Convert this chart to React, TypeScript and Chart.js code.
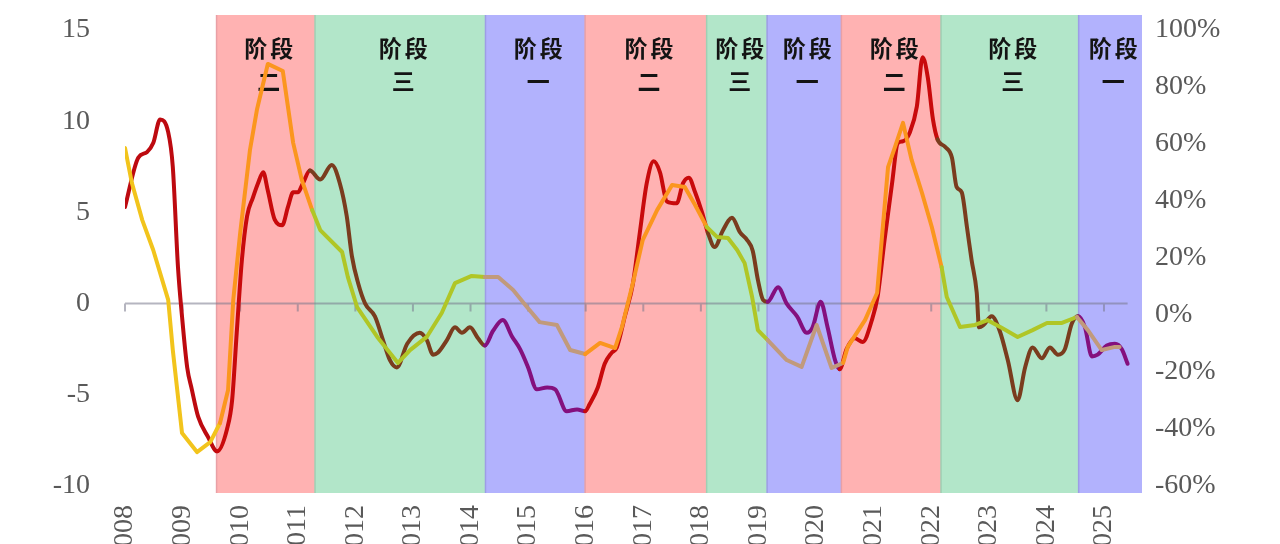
import React, { useEffect, useRef } from 'react';
import { Chart, registerables } from 'chart.js';

Chart.register(...registerables);

// year ticks on the category axis
const years = [2008, 2009, 2010, 2011, 2012, 2013, 2014, 2015, 2016, 2017, 2018, 2019, 2020, 2021, 2022, 2023, 2024, 2025];

// left axis series
const leftDates = [
  2008.0, 2008.23, 2008.38, 2008.49, 2008.61, 2008.75, 2008.83, 2008.92, 2008.99, 2009.08,
  2009.16, 2009.27, 2009.44, 2009.6, 2009.77, 2009.86, 2009.94, 2010.03, 2010.12, 2010.22,
  2010.31, 2010.4, 2010.48, 2010.6, 2010.73, 2010.83, 2010.92, 2011.0, 2011.09, 2011.21,
  2011.39, 2011.59, 2011.73, 2011.85, 2011.94, 2012.05, 2012.17, 2012.34, 2012.48, 2012.6,
  2012.72, 2012.9, 2013.12, 2013.24, 2013.35, 2013.43, 2013.59, 2013.73, 2013.85, 2013.99,
  2014.13, 2014.25, 2014.39, 2014.56, 2014.72, 2014.86, 2015.0, 2015.15, 2015.33, 2015.47,
  2015.67, 2015.85, 2015.99, 2016.07, 2016.21, 2016.33, 2016.45, 2016.54, 2016.68, 2016.82,
  2016.94, 2017.06, 2017.18, 2017.29, 2017.41, 2017.58, 2017.69, 2017.79, 2017.9, 2018.02,
  2018.12, 2018.24, 2018.38, 2018.54, 2018.68, 2018.8, 2018.9, 2018.99, 2019.08, 2019.16,
  2019.34, 2019.49, 2019.67, 2019.84, 2019.94, 2020.08, 2020.2, 2020.33, 2020.41, 2020.53,
  2020.67, 2020.81, 2020.97, 2021.07, 2021.19, 2021.32, 2021.42, 2021.51, 2021.63, 2021.75,
  2021.85, 2021.94, 2022.03, 2022.11, 2022.24, 2022.36, 2022.44, 2022.53, 2022.62, 2022.7,
  2022.79, 2022.83, 2022.9, 2023.05, 2023.19, 2023.33, 2023.5, 2023.63, 2023.76, 2023.92,
  2024.06, 2024.2, 2024.32, 2024.44, 2024.55, 2024.67, 2024.79, 2024.89, 2025.05, 2025.19,
  2025.31, 2025.41,
];
const leftValues = [
  5.3, 8.0, 8.3, 8.8, 10.1, 9.4, 7.5, 2.0, -0.7, -3.5,
  -4.7, -6.2, -7.3, -8.1, -6.9, -5.3, -1.6, 2.4, 4.8, 5.8,
  6.6, 7.2, 6.2, 4.6, 4.3, 5.3, 6.1, 6.1, 6.6, 7.3,
  6.8, 7.6, 6.6, 4.8, 2.6, 1.1, 0.0, -0.7, -2.0, -3.1,
  -3.5, -2.2, -1.6, -2.0, -2.8, -2.7, -2.0, -1.3, -1.6, -1.3,
  -1.9, -2.3, -1.5, -0.9, -1.8, -2.5, -3.5, -4.7, -4.6, -4.7,
  -5.9, -5.8, -5.9, -5.5, -4.6, -3.3, -2.7, -2.4, -0.7, 1.1,
  3.9, 6.6, 7.8, 7.2, 5.6, 5.5, 6.6, 6.9, 6.1, 5.0,
  3.9, 3.1, 4.0, 4.7, 3.9, 3.5, 2.9, 1.3, 0.2, 0.1,
  0.9, 0.0, -0.7, -1.6, -1.3, 0.1, -1.3, -3.1, -3.6, -2.5,
  -1.9, -2.1, -0.9, 0.4, 3.5, 6.6, 8.8, 8.9, 9.4, 10.8,
  13.5, 12.4, 10.1, 9.0, 8.6, 8.0, 6.4, 6.1, 4.2, 2.4,
  0.6, -1.3, -1.2, -0.7, -1.5, -3.1, -5.3, -3.5, -2.4, -3.0,
  -2.4, -2.8, -2.5, -1.1, -0.7, -1.3, -2.9, -2.8, -2.3, -2.2,
  -2.5, -3.3,
];

// right axis series, in %
const rightDates = [
  2008.0, 2008.12, 2008.3, 2008.49, 2008.75, 2008.83, 2008.99, 2009.25, 2009.48, 2009.65,
  2009.79, 2009.88, 2010.0, 2010.17, 2010.29, 2010.48, 2010.74, 2010.92, 2011.07, 2011.25,
  2011.39, 2011.77, 2011.87, 2012.03, 2012.38, 2012.74, 2012.95, 2013.24, 2013.5, 2013.73,
  2014.02, 2014.25, 2014.48, 2014.74, 2014.98, 2015.2, 2015.5, 2015.73, 2015.99, 2016.25,
  2016.51, 2016.63, 2016.82, 2016.99, 2017.24, 2017.5, 2017.72, 2017.9, 2018.1, 2018.28,
  2018.47, 2018.63, 2018.76, 2018.89, 2018.99, 2019.16, 2019.49, 2019.75, 2020.01, 2020.27,
  2020.47, 2020.55, 2020.85, 2021.06, 2021.14, 2021.25, 2021.37, 2021.51, 2021.66, 2021.84,
  2022.01, 2022.18, 2022.27, 2022.5, 2022.76, 2022.98, 2023.23, 2023.5, 2023.76, 2024.01,
  2024.27, 2024.53, 2024.72, 2024.96, 2025.19, 2025.27,
];
const rightValues = [
  58.6, 46.3, 33.3, 22.8, 5.3, -12.3, -41.4, -48.1, -44.6, -37.9,
  -26.3, 5.3, 28.8, 57.9, 71.9, 88.1, 85.6, 60.4, 47.4, 36.8,
  29.8, 22.1, 13.3, 2.8, -7.7, -16.8, -12.3, -7.7, 0.7, 11.2,
  13.7, 13.3, 13.3, 8.8, 2.8, -2.5, -3.5, -12.3, -13.7, -9.8,
  -11.6, -4.2, 11.2, 26.3, 36.8, 45.6, 44.9, 38.6, 30.9, 27.4,
  27.0, 22.8, 18.2, 6.3, -5.3, -8.8, -15.8, -18.2, -3.5, -18.6,
  -16.8, -11.2, -1.8, 7.7, 26.3, 51.9, 58.9, 67.4, 54.4, 42.8,
  30.9, 16.8, 6.3, -4.2, -3.5, -1.8, -4.6, -7.7, -5.3, -2.8,
  -2.8, -0.7, -5.3, -12.3, -11.2, -11.2,
];

// phases (阶段一 / 二 / 三)
const phaseStarts = [2009.59, 2011.3, 2014.26, 2015.99, 2018.1, 2019.15, 2020.44, 2022.17, 2024.56];
const phaseEnds = [2011.3, 2014.26, 2015.99, 2018.1, 2019.15, 2020.44, 2022.17, 2024.56, 2025.66];
const phaseKinds = [2, 3, 1, 2, 3, 1, 2, 3, 1];
const phaseLabels = ['二', '三', '一', '二', '三', '一', '二', '三', '一'];

const bandFill: Record<number, string> = { 1: '#b2b2fd', 2: '#ffb2b2', 3: '#b2e6c9' };
const bandEdge: Record<number, string> = { 1: '#9d9de6', 2: '#e9a0a6', 3: '#9fcfb4' };
const leftColor: Record<number, string> = { 0: '#bd0a10', 1: '#84107e', 2: '#c80a0c', 3: '#7a3c1e' };
const rightColor: Record<number, string> = { 0: '#f2c41c', 1: '#c19a7c', 2: '#fb961e', 3: '#b0c626' };

const phaseAt = (x: number) => {
  for (let i = 0; i < phaseStarts.length; i++) {
    if (x >= phaseStarts[i] && x < phaseEnds[i]) return phaseKinds[i];
  }
  return 0;
};

const tickFont = { family: '"Liberation Serif", "Times New Roman", serif', size: 28 };

const noScalePadding = (scale: any) => {
  scale.paddingTop = 0;
  scale.paddingBottom = 0;
};

const phasePlugin = {
  id: 'phaseBands',
  beforeDatasetsDraw(chart: any) {
    const { ctx, chartArea, scales } = chart;
    const x = scales.x;
    const y = scales.y;
    const top = chartArea.top - 15;
    const bottom = chartArea.bottom + 7;
    ctx.save();
    phaseStarts.forEach((s, i) => {
      const x0 = x.getPixelForValue(s);
      const x1 = x.getPixelForValue(phaseEnds[i]);
      ctx.fillStyle = bandFill[phaseKinds[i]];
      ctx.fillRect(x0, top, x1 - x0, bottom - top);
    });
    phaseStarts.forEach((s, i) => {
      const x0 = x.getPixelForValue(s);
      ctx.strokeStyle = bandEdge[phaseKinds[i]];
      ctx.lineWidth = 1.5;
      ctx.beginPath();
      ctx.moveTo(x0, top);
      ctx.lineTo(x0, bottom);
      ctx.stroke();
    });

    // zero line with year ticks
    const y0 = y.getPixelForValue(0);
    const xStart = x.getPixelForValue(years[0]);
    const xEnd = x.getPixelForValue(leftDates[leftDates.length - 1]);
    ctx.strokeStyle = 'rgba(120, 120, 140, 0.55)';
    ctx.lineWidth = 2;
    ctx.beginPath();
    ctx.moveTo(xStart, y0);
    ctx.lineTo(xEnd, y0);
    years.forEach((yr) => {
      const px = x.getPixelForValue(yr);
      ctx.moveTo(px, y0);
      ctx.lineTo(px, y0 + 8);
    });
    ctx.stroke();

    // band titles
    ctx.fillStyle = '#141414';
    ctx.font = 'bold 23px "Noto Sans CJK SC"';
    ctx.textAlign = 'center';
    ctx.textBaseline = 'middle';
    phaseStarts.forEach((s, i) => {
      const cx = (x.getPixelForValue(s) + x.getPixelForValue(phaseEnds[i])) / 2 + 3;
      ctx.fillText('阶', cx - 13, chartArea.top + 18);
      ctx.fillText('段', cx + 13, chartArea.top + 18);
      ctx.fillText(phaseLabels[i], cx, chartArea.top + 51);
    });
    ctx.restore();
  },
};

const App: React.FC = () => {
  const chartRef = useRef<HTMLCanvasElement | null>(null);
  const chartInstanceRef = useRef<Chart | null>(null);

  useEffect(() => {
    if (!chartRef.current) return;
    const ctx = chartRef.current.getContext('2d');
    if (!ctx) return;
    if (chartInstanceRef.current) chartInstanceRef.current.destroy();

    chartInstanceRef.current = new Chart(ctx, {
      type: 'line',
      data: {
        datasets: [
          {
            label: 'right',
            data: rightDates.map((d, i) => ({ x: d, y: rightValues[i] })),
            yAxisID: 'y1',
            borderWidth: 4,
            pointRadius: 0,
            tension: 0,
            borderJoinStyle: 'round',
            borderCapStyle: 'round',
            borderColor: rightColor[0],
            segment: {
              borderColor: (c: any) => rightColor[phaseAt((c.p0.parsed.x + c.p1.parsed.x) / 2)],
            },
          },
          {
            label: 'left',
            data: leftDates.map((d, i) => ({ x: d, y: leftValues[i] })),
            yAxisID: 'y',
            borderWidth: 4,
            pointRadius: 0,
            cubicInterpolationMode: 'monotone',
            borderJoinStyle: 'round',
            borderCapStyle: 'round',
            borderColor: leftColor[0],
            segment: {
              borderColor: (c: any) => leftColor[phaseAt((c.p0.parsed.x + c.p1.parsed.x) / 2)],
            },
          },
        ],
      },
      options: {
        responsive: true,
        maintainAspectRatio: false,
        animation: false,
        layout: { padding: { top: 30, left: 0, right: 0, bottom: 0 } },
        plugins: {
          legend: { display: false },
          tooltip: { enabled: false },
        },
        scales: {
          x: {
            type: 'linear',
            min: 2008,
            max: 2025.66,
            grid: { display: false, drawTicks: false },
            border: { display: false },
            afterBuildTicks: (scale: any) => {
              scale.ticks = years.map((v) => ({ value: v }));
            },
            afterFit: (scale: any) => {
              scale.height = 58;
              scale.paddingLeft = 0;
              scale.paddingRight = 0;
            },
            ticks: {
              autoSkip: false,
              minRotation: 90,
              maxRotation: 90,
              padding: 19,
              color: '#595959',
              font: tickFont,
              callback: (v: any) => String(v),
            },
          },
          y: {
            position: 'left',
            min: -10,
            max: 15,
            grid: { display: false, drawTicks: false },
            border: { display: false },
            afterFit: (scale: any) => {
              scale.width = 125;
              noScalePadding(scale);
            },
            ticks: {
              stepSize: 5,
              padding: 35,
              color: '#595959',
              font: tickFont,
            },
          },
          y1: {
            position: 'right',
            min: -60,
            max: 100,
            grid: { display: false, drawTicks: false },
            border: { display: false },
            afterFit: (scale: any) => {
              scale.width = 138;
              noScalePadding(scale);
            },
            ticks: {
              stepSize: 20,
              padding: 13,
              color: '#595959',
              font: tickFont,
              callback: (v: any) => v + '%',
            },
          },
        },
      },
      plugins: [phasePlugin],
    } as any);

    return () => {
      if (chartInstanceRef.current) {
        chartInstanceRef.current.destroy();
        chartInstanceRef.current = null;
      }
    };
  }, []);

  return (
    <div style={{ position: 'fixed', left: 0, top: 0, width: 1280, height: 544, background: '#fff' }}>
      <canvas ref={chartRef}></canvas>
    </div>
  );
};

export default App;
